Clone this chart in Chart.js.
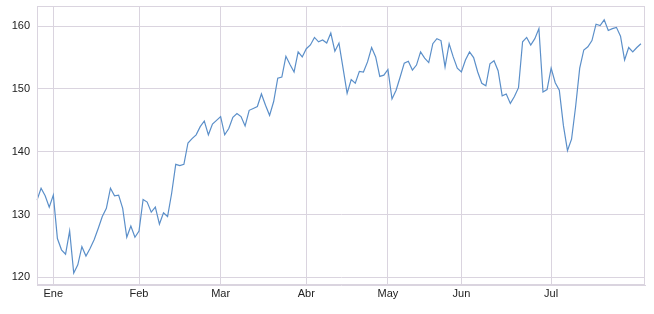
<!DOCTYPE html>
<html>
<head>
<meta charset="utf-8">
<script src="https://cdn.jsdelivr.net/npm/chart.js@4"></script>
<style>
    html, body { margin: 0; padding: 0; background: #fff; }
    #wrap { width: 654px; height: 314px; }
</style>
</head>
<body>
<div id="wrap"><canvas id="line"></canvas></div>
<script>
var months = ['Ene', 'Feb', 'Mar', 'Abr', 'May', 'Jun', 'Jul'];
var monthStart = [4, 25, 45, 66, 86, 104, 126];
var yTicks = [120, 130, 140, 150, 160];

var precio = [
    132.3, 134.2, 133.0, 131.2, 133.1, 126.2, 124.4, 123.7, 127.4, 120.7,
    122.0, 124.9, 123.4, 124.6, 126.0, 127.8, 129.7, 131.0, 134.2, 133.0,
    133.1, 131.0, 126.4, 128.2, 126.4, 127.4, 132.4, 132.0, 130.4, 131.2,
    128.5, 130.3, 129.7, 133.4, 138.0, 137.8, 138.0, 141.4, 142.1, 142.7,
    144.0, 144.9, 142.7, 144.4, 145.0, 145.6, 142.7, 143.7, 145.5, 146.1,
    145.6, 144.1, 146.6, 146.9, 147.2, 149.2, 147.4, 145.8, 148.0, 151.7,
    151.9, 155.2, 153.9, 152.7, 155.9, 155.1, 156.4, 157.0, 158.2, 157.5,
    157.8, 157.3, 158.9, 156.0, 157.3, 153.3, 149.3, 151.5, 150.9, 152.8,
    152.7, 154.3, 156.6, 155.1, 152.0, 152.2, 153.1, 148.4, 149.8, 151.9,
    154.1, 154.4, 153.0, 153.8, 155.9, 154.9, 154.2, 157.2, 158.0, 157.7,
    153.5, 157.2, 155.1, 153.3, 152.7, 154.6, 155.9, 155.0, 152.7, 150.9,
    150.5, 154.0, 154.5, 152.9, 148.9, 149.2, 147.7, 148.8, 150.2, 157.5,
    158.2, 157.0, 158.0, 159.6, 149.5, 149.9, 153.3, 151.0, 149.8, 144.2,
    140.2, 142.0, 147.2, 153.3, 156.2, 156.7, 157.7, 160.3, 160.1, 161.0,
    159.3, 159.6, 159.8, 158.4, 154.6, 156.6, 155.9, 156.6, 157.2
];

// one empty slot at the end, the axis runs a little past the last day
var labels = [];
for (var i = 0; i <= precio.length; i++) {
    var m = monthStart.indexOf(i);
    labels.push(m >= 0 ? months[m] : '');
}

var gridColor = '#dad4df';

// frame round the plot area (top and right sides too)
var frame = {
    id: 'frame',
    afterDraw: function (chart) {
        var a = chart.chartArea;
        var c = chart.ctx;
        c.save();
        c.strokeStyle = gridColor;
        c.lineWidth = 1;
        c.strokeRect(a.left + 0.5, a.top + 0.5, a.right - a.left - 1, a.bottom - a.top - 1);
        c.restore();
    }
};

Chart.defaults.font.family = '"Liberation Sans", Arial, sans-serif';
Chart.defaults.font.size = 11;
Chart.defaults.color = '#222';

var ctx = document.getElementById('line');

var lineGraph = new Chart(ctx, {
    type: 'line',
    data: {
        labels: labels,
        datasets: [{
            data: precio,
            borderColor: '#5b8fc9',
            borderWidth: 1.2,
            pointRadius: 0,
            tension: 0,
            fill: false
        }]
    },
    options: {
        responsive: true,
        maintainAspectRatio: false,
        animation: false,
        layout: {padding: {top: 6, right: 9, left: 0, bottom: 0}},
        plugins: {
            legend: {display: false},
            tooltip: {enabled: false}
        },
        scales: {
            x: {
                type: 'category',
                offset: false,
                border: {color: gridColor},
                grid: {
                    drawTicks: false,
                    color: function (c) {
                        return monthStart.indexOf(c.index) >= 0 ? gridColor : 'rgba(0,0,0,0)';
                    }
                },
                ticks: {
                    autoSkip: false,
                    maxRotation: 0,
                    padding: 2,
                    callback: function (v, idx) {
                        return labels[idx];
                    }
                },
                afterFit: function (s) {
                    s.height = 29;
                    s.paddingLeft = 0;
                    s.paddingRight = 0;
                }
            },
            y: {
                min: 118.8,
                max: 163.2,
                border: {color: gridColor},
                grid: {drawTicks: false, color: gridColor},
                afterBuildTicks: function (s) {
                    s.ticks = yTicks.map(function (v) { return {value: v}; });
                },
                ticks: {padding: 7},
                afterFit: function (s) {
                    s.width = 37;
                    s.paddingTop = 0;
                    s.paddingBottom = 0;
                }
            }
        }
    },
    plugins: [frame]
});
</script>
</body>
</html>
